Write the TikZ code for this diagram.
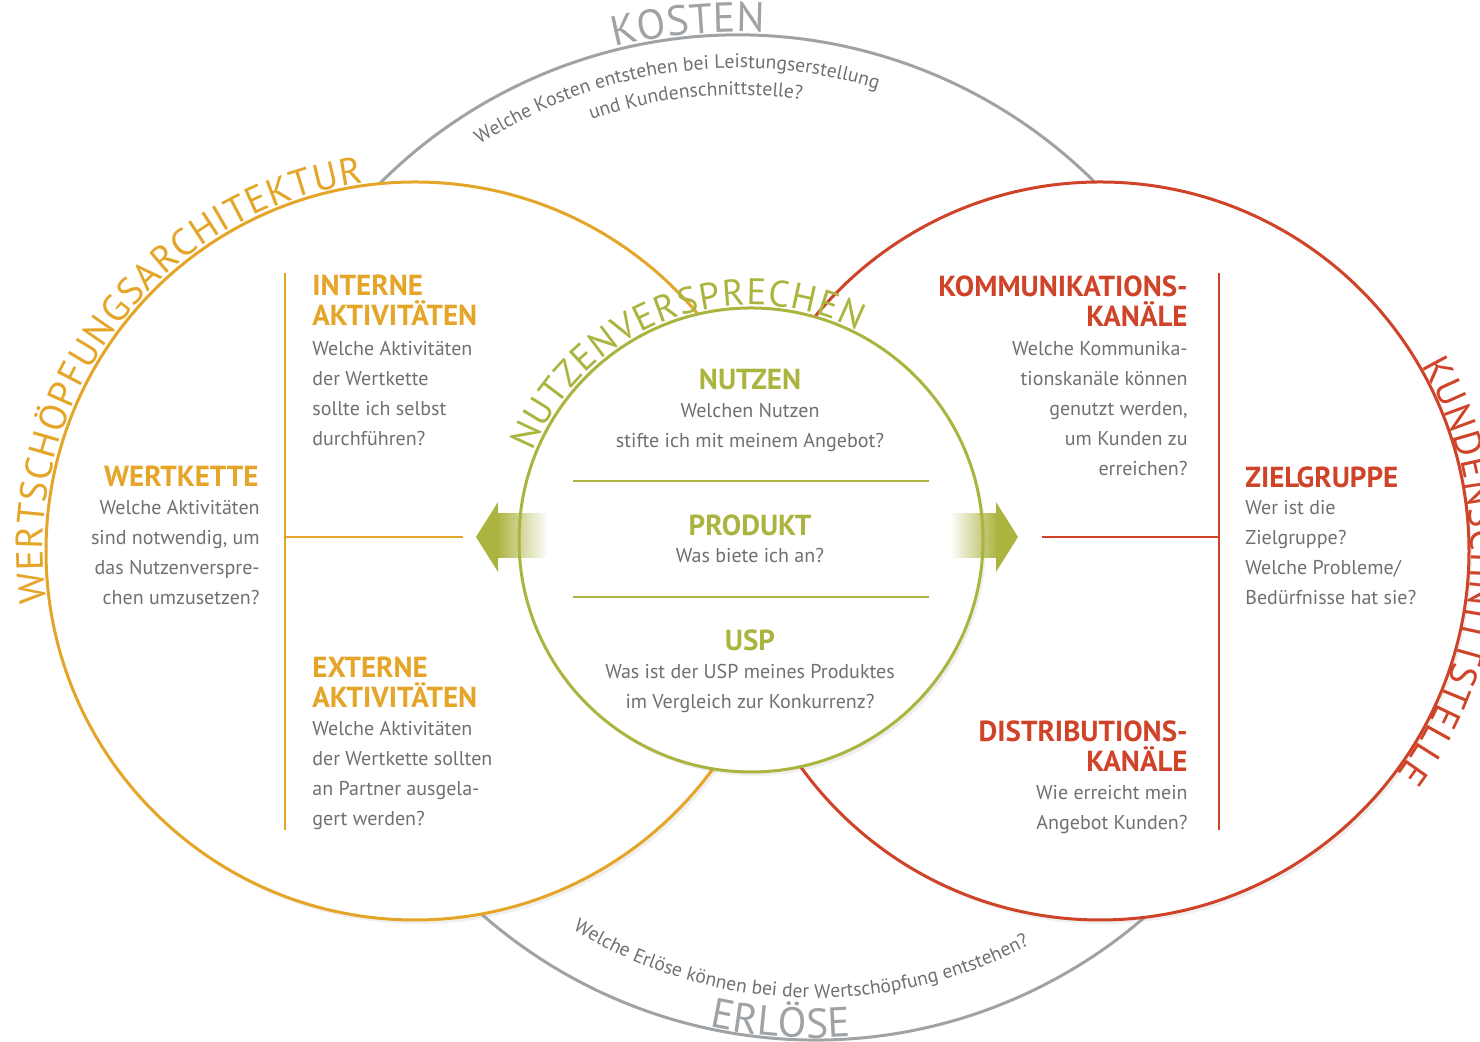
\documentclass[tikz,border=0pt]{standalone}
\usepackage{fontspec}
\setmainfont{PT Sans}
\usetikzlibrary{decorations.text,shadows,fadings}

\definecolor{kostgrey}{RGB}{160,163,166}
\definecolor{textgrey}{RGB}{112,112,112}
\definecolor{wertorange}{RGB}{228,165,40}
\definecolor{kundred}{RGB}{207,67,40}
\definecolor{nutzgreen}{RGB}{172,180,64}

\tikzfading[name=fadeeast, left color=transparent!0, right color=transparent!100]
\tikzfading[name=fadewest, left color=transparent!100, right color=transparent!0]

\begin{document}
\begin{tikzpicture}[x=0.5pt,y=0.5pt]
\tikzset{
  head/.style={inner sep=0pt, font=\bfseries\fontsize{14.5}{15}\selectfont},
  body/.style={inner sep=0pt, text=textgrey, font=\fontsize{10}{15}\selectfont},
  ring/.style={line width=1.5pt, fill=white, drop shadow={opacity=0.12, shadow xshift=1.5pt, shadow yshift=-2pt}},
  divider/.style={line width=1pt},
}
\useasboundingbox (0,0) rectangle (1480,1042);

% grey ring: Kosten / Erloese
\draw[kostgrey, line width=1.5pt] (738,501) ++(160:506) arc[start angle=160, end angle=20, radius=506];
\draw[kostgrey, line width=1.5pt] (815,506) ++(-150:504) arc[start angle=-150, end angle=-30, radius=504];

\path[decorate, decoration={text along path, text align=center, text color=kostgrey,
  text={|\fontsize{21}{21}\selectfont|KOSTEN}}]
  (738,501) ++(110:509) arc[start angle=110, end angle=81, radius=509];
\path[decorate, decoration={text along path, text align=center, text color=textgrey,
  text={|\fontsize{9.8}{10}\selectfont|Welche Kosten entstehen bei Leistungserstellung}}]
  (738,501) ++(128:473) arc[start angle=128, end angle=68, radius=473];
\path[decorate, decoration={text along path, text align=center, text color=textgrey,
  text={|\fontsize{9.8}{10}\selectfont|und Kundenschnittstelle?}}]
  (738,501) ++(116:446) arc[start angle=116, end angle=75, radius=446];

\path[decorate, decoration={text along path, text align=center, text color=kostgrey,
  text={|\fontsize{21}{21}\selectfont|ERLÖSE}}]
  (815,506) ++(-104:502) arc[start angle=-104, end angle=-84, radius=502];
\path[decorate, decoration={text along path, text align=center, text color=textgrey,
  text={|\fontsize{9.8}{10}\selectfont|Welche Erlöse können bei der Wertschöpfung entstehen?}}]
  (815,506) ++(-125:462) arc[start angle=-125, end angle=-59, radius=462];

% the two big circles
\draw[ring, draw=wertorange] (415,491) circle[radius=369];
\draw[ring, draw=kundred] (1100,491) circle[radius=369];

% Wertschoepfungsarchitektur
\coordinate (wtop) at (285,769);
\coordinate (wbot) at (285,212);
\coordinate (wmid) at (285,505);
\coordinate (wend) at (463,505);
\draw[divider, wertorange] (wtop) -- (wbot);
\draw[divider, wertorange] (wmid) -- (wend);

\node[head, text=wertorange, anchor=north west, align=left] at (312,767) (interne) {INTERNE\\AKTIVITÄTEN};
\node[body, anchor=north west, align=left] at (312,701) (internetext) {Welche Aktivitäten\\der Wertkette\\sollte ich selbst\\durchführen?};
\node[head, text=wertorange, anchor=north east, align=right] at (259,576) (wertkette) {WERTKETTE};
\node[body, anchor=north east, align=right] at (260,542) (wertkettetext) {Welche Aktivitäten\\sind notwendig, um\\das Nutzenverspre-\\chen umzusetzen?};
\node[head, text=wertorange, anchor=north west, align=left] at (312,385) (externe) {EXTERNE\\AKTIVITÄTEN};
\node[body, anchor=north west, align=left] at (312,321) (externetext) {Welche Aktivitäten\\der Wertkette sollten\\an Partner ausgela-\\gert werden?};

% Kundenschnittstelle
\coordinate (ktop) at (1219,769);
\coordinate (kbot) at (1219,212);
\coordinate (kmid) at (1219,505);
\coordinate (kend) at (1042,505);
\draw[divider, kundred] (ktop) -- (kbot);
\draw[divider, kundred] (kmid) -- (kend);

\node[head, text=kundred, anchor=north east, align=right] at (1188,767) (kommunikation) {KOMMUNIKATIONS-\\KANÄLE};
\node[body, anchor=north east, align=right] at (1188,701) (kommunikationtext) {Welche Kommunika-\\tionskanäle können\\genutzt werden,\\um Kunden zu\\erreichen?};
\node[head, text=kundred, anchor=north west, align=left] at (1245,576) (zielgruppe) {ZIELGRUPPE};
\node[body, anchor=north west, align=left] at (1245,542) (zielgruppetext) {Wer ist die\\Zielgruppe?\\Welche Probleme/\\Bedürfnisse hat sie?};
\node[head, text=kundred, anchor=north east, align=right] at (1188,322) (distribution) {DISTRIBUTIONS-\\KANÄLE};
\node[body, anchor=north east, align=right] at (1188,257) (distributiontext) {Wie erreicht mein\\Angebot Kunden?};

% Nutzenversprechen
\draw[ring, draw=nutzgreen] (751,502) circle[radius=232];
\coordinate (ntopl) at (573,561);
\coordinate (ntopr) at (929,561);
\coordinate (nbotl) at (573,445);
\coordinate (nbotr) at (929,445);
\draw[divider, nutzgreen] (ntopl) -- (ntopr);
\draw[divider, nutzgreen] (nbotl) -- (nbotr);

\node[head, text=nutzgreen, anchor=north] at (750,673) (nutzen) {NUTZEN};
\node[body, anchor=north, align=center] at (750,639) (nutzentext) {Welchen Nutzen\\stifte ich mit meinem Angebot?};
\node[head, text=nutzgreen, anchor=north] at (750,528) (produkt) {PRODUKT};
\node[body, anchor=north, align=center] at (750,494) (produkttext) {Was biete ich an?};
\node[head, text=nutzgreen, anchor=north] at (750,413) (usp) {USP};
\node[body, anchor=north, align=center] at (750,378) (usptext) {Was ist der USP meines Produktes\\im Vergleich zur Konkurrenz?};

% arrows out of the value circle
\fill[nutzgreen, path fading=fadeeast] (497,484) rectangle (548,529);
\fill[nutzgreen] (476,505) -- (498,540) -- (498,470) -- cycle;
\fill[nutzgreen, path fading=fadewest] (950,484) rectangle (997,529);
\fill[nutzgreen] (1018,505) -- (996,540) -- (996,470) -- cycle;

% titles along the circles
\path[decorate, decoration={text along path, text align={fit to path}, text color=wertorange,
  text={|\fontsize{19}{19}\selectfont|WERTSCHÖPFUNGSARCHITEKTUR}}]
  (415,491) ++(188:372) arc[start angle=188, end angle=98, radius=372];
\path[decorate, decoration={text along path, text align={fit to path}, text color=kundred,
  text={|\fontsize{19}{19}\selectfont|KUNDENSCHNITTSTELLE}}]
  (1100,491) ++(30:371) arc[start angle=30, end angle=-37, radius=371];
\path[decorate, decoration={text along path, text align={fit to path}, text color=nutzgreen,
  text={|\fontsize{18.5}{19}\selectfont|NUTZENVERSPRECHEN}}]
  (751,502) ++(158:235) arc[start angle=158, end angle=63, radius=235];
\end{tikzpicture}
\end{document}
